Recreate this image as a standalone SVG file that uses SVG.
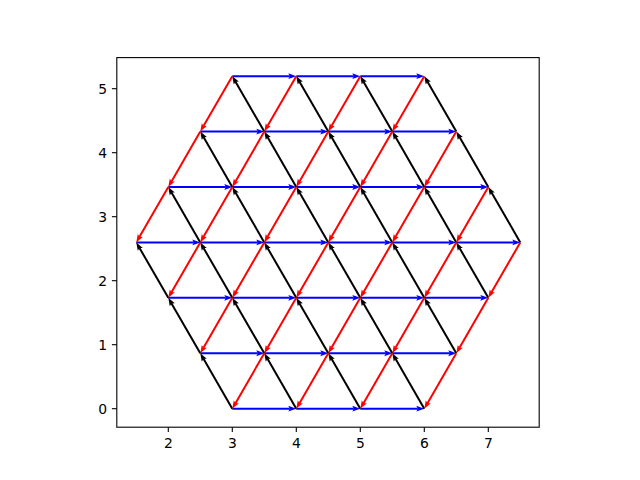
<svg xmlns="http://www.w3.org/2000/svg" width="640" height="480" viewBox="0 0 640 480">
<style>
.b{stroke:#0000ff;stroke-width:2;fill:none;marker-end:url(#hb)}
.k{stroke:#000000;stroke-width:2;fill:none;marker-end:url(#hk)}
.r{stroke:#ff0000;stroke-width:2;fill:none;marker-end:url(#hr)}
.tick{stroke:#000;stroke-width:1.1}
.lbl{font-family:"DejaVu Sans",sans-serif;font-size:13.9px;fill:#000}
</style>
<defs>
<marker id="hb" markerUnits="userSpaceOnUse" orient="auto" refX="0" refY="0" markerWidth="20" markerHeight="20" viewBox="-5 -10 20 20" overflow="visible"><path d="M6.7,0 L-1.3,-2.9 L-0.3,-1 L-0.3,1 L-1.3,2.9 Z" fill="#0000ff"/></marker>
<marker id="hk" markerUnits="userSpaceOnUse" orient="auto" refX="0" refY="0" markerWidth="20" markerHeight="20" viewBox="-5 -10 20 20" overflow="visible"><path d="M6.7,0 L-1.3,-2.9 L-0.3,-1 L-0.3,1 L-1.3,2.9 Z" fill="#000000"/></marker>
<marker id="hr" markerUnits="userSpaceOnUse" orient="auto" refX="0" refY="0" markerWidth="20" markerHeight="20" viewBox="-5 -10 20 20" overflow="visible"><path d="M6.7,0 L-1.3,-2.9 L-0.3,-1 L-0.3,1 L-1.3,2.9 Z" fill="#ff0000"/></marker>
</defs>
<rect width="640" height="480" fill="#fff"/>
<g id="connectors">
<g id="blue">
<line class="b" x1="232.3" y1="76.14" x2="289.6" y2="76.14"/>
<line class="b" x1="296.3" y1="76.14" x2="353.6" y2="76.14"/>
<line class="b" x1="360.3" y1="76.14" x2="417.6" y2="76.14"/>
<line class="b" x1="200.3" y1="131.57" x2="257.6" y2="131.57"/>
<line class="b" x1="264.3" y1="131.57" x2="321.6" y2="131.57"/>
<line class="b" x1="328.3" y1="131.57" x2="385.6" y2="131.57"/>
<line class="b" x1="392.3" y1="131.57" x2="449.6" y2="131.57"/>
<line class="b" x1="168.3" y1="187" x2="225.6" y2="187"/>
<line class="b" x1="232.3" y1="187" x2="289.6" y2="187"/>
<line class="b" x1="296.3" y1="187" x2="353.6" y2="187"/>
<line class="b" x1="360.3" y1="187" x2="417.6" y2="187"/>
<line class="b" x1="424.3" y1="187" x2="481.6" y2="187"/>
<line class="b" x1="136.3" y1="242.42" x2="193.6" y2="242.42"/>
<line class="b" x1="200.3" y1="242.42" x2="257.6" y2="242.42"/>
<line class="b" x1="264.3" y1="242.42" x2="321.6" y2="242.42"/>
<line class="b" x1="328.3" y1="242.42" x2="385.6" y2="242.42"/>
<line class="b" x1="392.3" y1="242.42" x2="449.6" y2="242.42"/>
<line class="b" x1="456.3" y1="242.42" x2="513.6" y2="242.42"/>
<line class="b" x1="168.3" y1="297.85" x2="225.6" y2="297.85"/>
<line class="b" x1="232.3" y1="297.85" x2="289.6" y2="297.85"/>
<line class="b" x1="296.3" y1="297.85" x2="353.6" y2="297.85"/>
<line class="b" x1="360.3" y1="297.85" x2="417.6" y2="297.85"/>
<line class="b" x1="424.3" y1="297.85" x2="481.6" y2="297.85"/>
<line class="b" x1="200.3" y1="353.27" x2="257.6" y2="353.27"/>
<line class="b" x1="264.3" y1="353.27" x2="321.6" y2="353.27"/>
<line class="b" x1="328.3" y1="353.27" x2="385.6" y2="353.27"/>
<line class="b" x1="392.3" y1="353.27" x2="449.6" y2="353.27"/>
<line class="b" x1="232.3" y1="408.7" x2="289.6" y2="408.7"/>
<line class="b" x1="296.3" y1="408.7" x2="353.6" y2="408.7"/>
<line class="b" x1="360.3" y1="408.7" x2="417.6" y2="408.7"/>
</g>
<g id="black">
<line class="k" x1="232.3" y1="408.7" x2="203.65" y2="359.07"/>
<line class="k" x1="296.3" y1="408.7" x2="267.65" y2="359.07"/>
<line class="k" x1="360.3" y1="408.7" x2="331.65" y2="359.07"/>
<line class="k" x1="424.3" y1="408.7" x2="395.65" y2="359.07"/>
<line class="k" x1="200.3" y1="353.27" x2="171.65" y2="303.65"/>
<line class="k" x1="264.3" y1="353.27" x2="235.65" y2="303.65"/>
<line class="k" x1="328.3" y1="353.27" x2="299.65" y2="303.65"/>
<line class="k" x1="392.3" y1="353.27" x2="363.65" y2="303.65"/>
<line class="k" x1="456.3" y1="353.27" x2="427.65" y2="303.65"/>
<line class="k" x1="168.3" y1="297.85" x2="139.65" y2="248.22"/>
<line class="k" x1="232.3" y1="297.85" x2="203.65" y2="248.22"/>
<line class="k" x1="296.3" y1="297.85" x2="267.65" y2="248.22"/>
<line class="k" x1="360.3" y1="297.85" x2="331.65" y2="248.22"/>
<line class="k" x1="424.3" y1="297.85" x2="395.65" y2="248.22"/>
<line class="k" x1="488.3" y1="297.85" x2="459.65" y2="248.22"/>
<line class="k" x1="200.3" y1="242.42" x2="171.65" y2="192.8"/>
<line class="k" x1="264.3" y1="242.42" x2="235.65" y2="192.8"/>
<line class="k" x1="328.3" y1="242.42" x2="299.65" y2="192.8"/>
<line class="k" x1="392.3" y1="242.42" x2="363.65" y2="192.8"/>
<line class="k" x1="456.3" y1="242.42" x2="427.65" y2="192.8"/>
<line class="k" x1="520.3" y1="242.42" x2="491.65" y2="192.8"/>
<line class="k" x1="232.3" y1="187" x2="203.65" y2="137.37"/>
<line class="k" x1="296.3" y1="187" x2="267.65" y2="137.37"/>
<line class="k" x1="360.3" y1="187" x2="331.65" y2="137.37"/>
<line class="k" x1="424.3" y1="187" x2="395.65" y2="137.37"/>
<line class="k" x1="488.3" y1="187" x2="459.65" y2="137.37"/>
<line class="k" x1="264.3" y1="131.57" x2="235.65" y2="81.94"/>
<line class="k" x1="328.3" y1="131.57" x2="299.65" y2="81.94"/>
<line class="k" x1="392.3" y1="131.57" x2="363.65" y2="81.94"/>
<line class="k" x1="456.3" y1="131.57" x2="427.65" y2="81.94"/>
</g>
<g id="red">
<line class="r" x1="264.3" y1="353.27" x2="235.65" y2="402.9"/>
<line class="r" x1="328.3" y1="353.27" x2="299.65" y2="402.9"/>
<line class="r" x1="392.3" y1="353.27" x2="363.65" y2="402.9"/>
<line class="r" x1="456.3" y1="353.27" x2="427.65" y2="402.9"/>
<line class="r" x1="232.3" y1="297.85" x2="203.65" y2="347.47"/>
<line class="r" x1="296.3" y1="297.85" x2="267.65" y2="347.47"/>
<line class="r" x1="360.3" y1="297.85" x2="331.65" y2="347.47"/>
<line class="r" x1="424.3" y1="297.85" x2="395.65" y2="347.47"/>
<line class="r" x1="488.3" y1="297.85" x2="459.65" y2="347.47"/>
<line class="r" x1="200.3" y1="242.42" x2="171.65" y2="292.05"/>
<line class="r" x1="264.3" y1="242.42" x2="235.65" y2="292.05"/>
<line class="r" x1="328.3" y1="242.42" x2="299.65" y2="292.05"/>
<line class="r" x1="392.3" y1="242.42" x2="363.65" y2="292.05"/>
<line class="r" x1="456.3" y1="242.42" x2="427.65" y2="292.05"/>
<line class="r" x1="520.3" y1="242.42" x2="491.65" y2="292.05"/>
<line class="r" x1="168.3" y1="187" x2="139.65" y2="236.62"/>
<line class="r" x1="232.3" y1="187" x2="203.65" y2="236.62"/>
<line class="r" x1="296.3" y1="187" x2="267.65" y2="236.62"/>
<line class="r" x1="360.3" y1="187" x2="331.65" y2="236.62"/>
<line class="r" x1="424.3" y1="187" x2="395.65" y2="236.62"/>
<line class="r" x1="488.3" y1="187" x2="459.65" y2="236.62"/>
<line class="r" x1="200.3" y1="131.57" x2="171.65" y2="181.2"/>
<line class="r" x1="264.3" y1="131.57" x2="235.65" y2="181.2"/>
<line class="r" x1="328.3" y1="131.57" x2="299.65" y2="181.2"/>
<line class="r" x1="392.3" y1="131.57" x2="363.65" y2="181.2"/>
<line class="r" x1="456.3" y1="131.57" x2="427.65" y2="181.2"/>
<line class="r" x1="232.3" y1="76.14" x2="203.65" y2="125.77"/>
<line class="r" x1="296.3" y1="76.14" x2="267.65" y2="125.77"/>
<line class="r" x1="360.3" y1="76.14" x2="331.65" y2="125.77"/>
<line class="r" x1="424.3" y1="76.14" x2="395.65" y2="125.77"/>
</g>
</g>
<g id="axes">
<rect x="116.8" y="57.6" width="422.4" height="369.6" fill="none" stroke="#000" stroke-width="1.1"/>
<g id="xticks">
<line class="tick" x1="168.3" y1="427.2" x2="168.3" y2="432.1"/>
<line class="tick" x1="232.3" y1="427.2" x2="232.3" y2="432.1"/>
<line class="tick" x1="296.3" y1="427.2" x2="296.3" y2="432.1"/>
<line class="tick" x1="360.3" y1="427.2" x2="360.3" y2="432.1"/>
<line class="tick" x1="424.3" y1="427.2" x2="424.3" y2="432.1"/>
<line class="tick" x1="488.3" y1="427.2" x2="488.3" y2="432.1"/>
<text class="lbl" x="168.3" y="447.5" text-anchor="middle">2</text>
<text class="lbl" x="232.3" y="447.5" text-anchor="middle">3</text>
<text class="lbl" x="296.3" y="447.5" text-anchor="middle">4</text>
<text class="lbl" x="360.3" y="447.5" text-anchor="middle">5</text>
<text class="lbl" x="424.3" y="447.5" text-anchor="middle">6</text>
<text class="lbl" x="488.3" y="447.5" text-anchor="middle">7</text>
</g>
<g id="yticks">
<line class="tick" x1="111.9" y1="408.7" x2="116.8" y2="408.7"/>
<line class="tick" x1="111.9" y1="344.7" x2="116.8" y2="344.7"/>
<line class="tick" x1="111.9" y1="280.7" x2="116.8" y2="280.7"/>
<line class="tick" x1="111.9" y1="216.7" x2="116.8" y2="216.7"/>
<line class="tick" x1="111.9" y1="152.7" x2="116.8" y2="152.7"/>
<line class="tick" x1="111.9" y1="88.7" x2="116.8" y2="88.7"/>
<text class="lbl" x="107.1" y="414" text-anchor="end">0</text>
<text class="lbl" x="107.1" y="350" text-anchor="end">1</text>
<text class="lbl" x="107.1" y="286" text-anchor="end">2</text>
<text class="lbl" x="107.1" y="222" text-anchor="end">3</text>
<text class="lbl" x="107.1" y="158" text-anchor="end">4</text>
<text class="lbl" x="107.1" y="94" text-anchor="end">5</text>
</g>
</g>
</svg>
